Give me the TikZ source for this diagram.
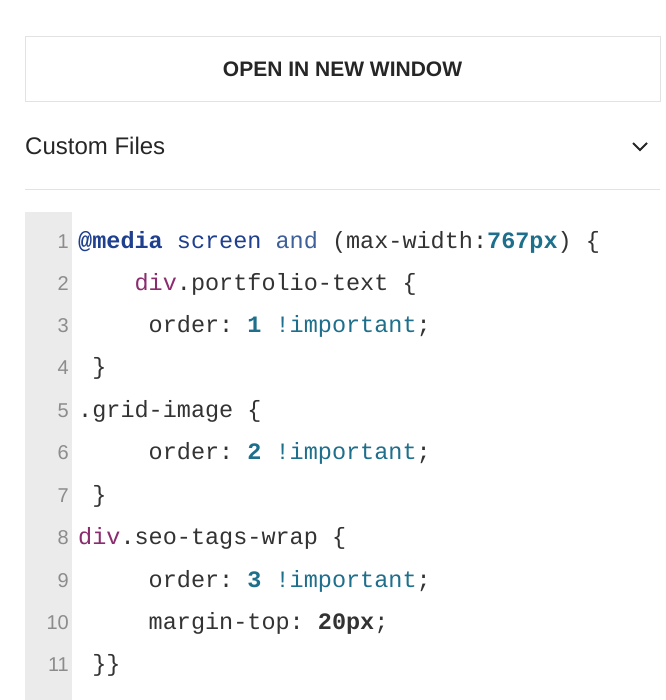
\documentclass[tikz,border=0pt]{standalone}
\usepackage{fontspec}
\setmainfont{Liberation Sans}
\setmonofont{Liberation Mono}
\definecolor{kwblue}{HTML}{1F3F8F}
\definecolor{kwsoft}{HTML}{3D5F9A}
\definecolor{tagpurple}{HTML}{8A2C6E}
\definecolor{numteal}{HTML}{1E6F8C}
\definecolor{gutter}{HTML}{EBEBEB}
\definecolor{rule}{HTML}{E2E2E2}
\tikzset{
  codeline/.style={anchor=west,inner sep=0pt,font=\fontsize{23.5}{24}\ttfamily,text=black!80},
  lineno/.style={anchor=east,inner sep=0pt,font=\fontsize{20}{22}\selectfont,text=black!45}
}
\newcommand{\kw}[1]{\textcolor{kwblue}{\textbf{#1}}}
\newcommand{\num}[1]{\textcolor{numteal}{\textbf{#1}}}
\begin{document}
\begin{tikzpicture}[x=1pt,y=-1pt]
        \useasboundingbox[fill=white] (0,0) rectangle (665,700);
        % button
        \node[draw=rule,line width=1pt,minimum width=635pt,minimum height=65pt,
              font=\fontsize{21}{22}\selectfont\bfseries,text=black!85] (openbtn) at (342.5,69.5) {OPEN IN NEW WINDOW};
        % header
        \node[anchor=west,inner sep=0pt,font=\fontsize{24}{26}\selectfont,text=black!85] (custom) at (25,146) {Custom Files};
        \draw[line width=2pt,black!85] (633,143) -- (640,150) -- (647,143);
        \draw[rule,line width=1pt] (25,190) -- (660,190);
        % gutter
        \fill[gutter] (25,212) rectangle (72,700);
        \foreach \n/\yy in {1/242,2/284,3/326,4/368,5/411,6/453,7/496,8/538,9/581,10/623,11/665}
            \node[lineno] (ln\n) at (69,\yy) {\n};
        % code
        \node[codeline] (c1) at (78,242) {\kw{@media} \textcolor{kwblue}{screen} \textcolor{kwsoft}{and} (max-width:\num{767px}) \{};
        \node[codeline] (c2) at (78,284) {\ \ \ \ \textcolor{tagpurple}{div}.portfolio-text \{};
        \node[codeline] (c3) at (78,326) {\ \ \ \ \ order: \num{1} \textcolor{numteal}{!important};};
        \node[codeline] (c4) at (78,368) {\ \}};
        \node[codeline] (c5) at (78,411) {.grid-image \{};
        \node[codeline] (c6) at (78,453) {\ \ \ \ \ order: \num{2} \textcolor{numteal}{!important};};
        \node[codeline] (c7) at (78,496) {\ \}};
        \node[codeline] (c8) at (78,538) {\textcolor{tagpurple}{div}.seo-tags-wrap \{};
        \node[codeline] (c9) at (78,581) {\ \ \ \ \ order: \num{3} \textcolor{numteal}{!important};};
        \node[codeline] (c10) at (78,623) {\ \ \ \ \ margin-top: \textbf{20px};};
        \node[codeline] (c11) at (78,665) {\ \}\}};
    \end{tikzpicture}
\end{document}
